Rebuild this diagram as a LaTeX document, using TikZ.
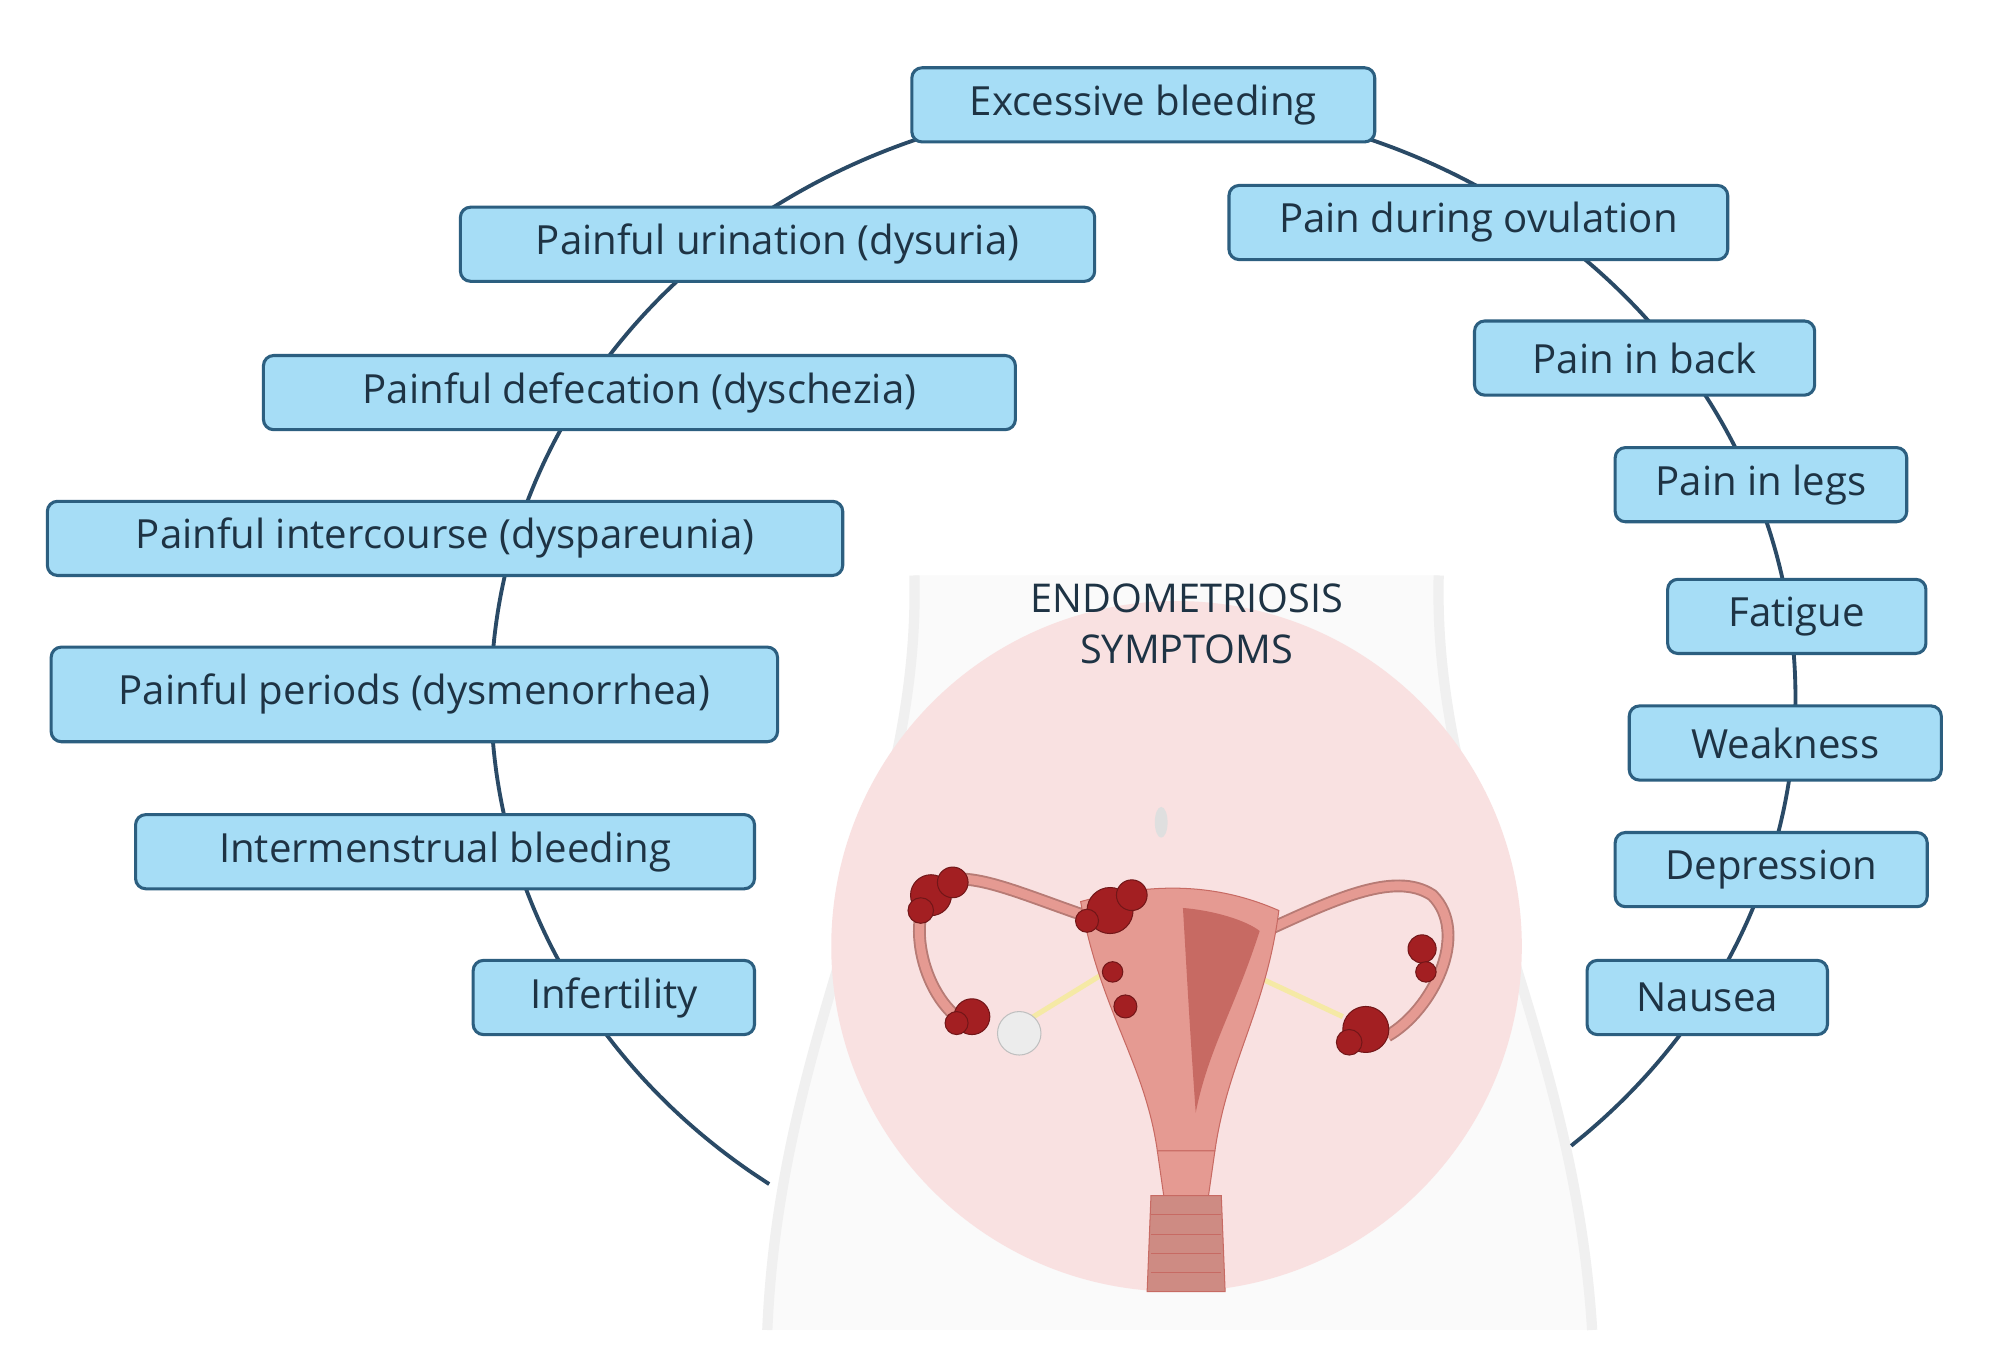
\documentclass[tikz,border=0pt]{standalone}
\usepackage{fontspec}
\setmainfont{Open Sans}
\usetikzlibrary{shapes.geometric}
\definecolor{boxfill}{HTML}{A6DDF6}
\definecolor{boxline}{HTML}{2C5F80}
\definecolor{txt}{HTML}{1E3344}
\definecolor{arc}{HTML}{2A4A66}
\definecolor{pinkbg}{HTML}{F9E1E1}
\definecolor{uter}{HTML}{E59A92}
\definecolor{uterd}{HTML}{C76A63}
\definecolor{lesion}{HTML}{A31F22}
\tikzset{
  sym/.style={draw=boxline,line width=1.2pt,fill=boxfill,rounded corners=4pt,
    minimum height=29pt,inner xsep=6pt,text=txt,font=\fontsize{15.7}{18}\selectfont,anchor=center},
  les/.style={fill=lesion,draw=lesion!70!black,line width=0.4pt}
}
\begin{document}
\begin{tikzpicture}[x=0.5pt,y=-0.5pt]
\useasboundingbox (0,0) rectangle (1560,1068);
\fill[white] (0,0) rectangle (1560,1068);
% body silhouette
\fill[gray!4] (600,1040) .. controls (610,800) and (720,650) .. (715,450) -- (1125,450) .. controls (1120,650) and (1230,800) .. (1245,1040) -- cycle;
\draw[gray!12,line width=4pt] (715,450) .. controls (720,650) and (610,800) .. (600,1040);
\draw[gray!12,line width=4pt] (1125,450) .. controls (1120,650) and (1230,800) .. (1245,1040);
\fill[pinkbg] (920,740) circle (270);
\fill[gray!25] (908,643) ellipse (5 and 12);
% arc
\draw[arc,line width=1.5pt] plot[domain=-49:235,samples=150,smooth] ({894+510*cos(\x)},{545-465*sin(\x)});
% uterus
\draw[uter!80!black,line width=5pt,fill=none] (860,720) .. controls (800,700) and (760,680) .. (735,690) .. controls (705,710) and (720,780) .. (755,800);
\draw[uter,line width=3.5pt] (860,720) .. controls (800,700) and (760,680) .. (735,690) .. controls (705,710) and (720,780) .. (755,800);
\draw[uter!80!black,line width=5pt] (985,730) .. controls (1040,705) and (1090,680) .. (1120,700) .. controls (1150,730) and (1120,790) .. (1085,810);
\draw[uter,line width=3.5pt] (985,730) .. controls (1040,705) and (1090,680) .. (1120,700) .. controls (1150,730) and (1120,790) .. (1085,810);
\draw[yellow!60!brown!40,line width=2pt] (865,760) -- (800,800);
\draw[yellow!60!brown!40,line width=2pt] (975,760) -- (1050,795);
\fill[gray!15,draw=gray!50] (797,808) circle (17);
\fill[uter,draw=uterd] (845,705) .. controls (900,690) and (950,690) .. (1000,712) .. controls (990,790) and (960,830) .. (950,900) -- (905,900) .. controls (895,830) and (860,790) .. (845,705) -- cycle;
\fill[uterd] (925,710) .. controls (950,712) and (975,720) .. (985,728) .. controls (965,790) and (945,820) .. (935,870) .. controls (930,800) and (928,760) .. (925,710) -- cycle;
\fill[uter,draw=uterd] (905,900) -- (950,900) -- (945,935) -- (910,935) -- cycle;
\fill[uter!90!black,draw=uterd] (900,935) -- (955,935) -- (958,1010) -- (897,1010) -- cycle;
\foreach \yy in {950,965,980,995} \draw[uterd] (900,\yy) -- (955,\yy);
% lesions
\foreach \p/\r in {{(728,700)}/16,{(745,690)}/12,{(720,712)}/10,{(760,795)}/14,{(748,800)}/9,
  {(868,712)}/18,{(885,700)}/12,{(850,720)}/9,{(870,760)}/8,{(880,787)}/9,
  {(1112,742)}/11,{(1115,760)}/8,{(1068,805)}/18,{(1055,815)}/10}
  \fill[les] \p circle (\r);
% title
\node[text=txt,font=\fontsize{15.5}{18}\selectfont,align=center] (title) at (928,488) {ENDOMETRIOSIS\\[2pt]SYMPTOMS};
% boxes
\node[sym,minimum width=181pt] (n1) at (894,82) {Excessive bleeding};
\node[sym,minimum width=248pt] (n2) at (608,191) {Painful urination (dysuria)};
\node[sym,minimum width=195pt] (n3) at (1156,174) {Pain during ovulation};
\node[sym,minimum width=294pt] (n4) at (500,307) {Painful defecation (dyschezia)};
\node[sym,minimum width=133pt] (n5) at (1286,280) {Pain in back};
\node[sym,minimum width=311pt] (n6) at (348,421) {Painful intercourse (dyspareunia)};
\node[sym,minimum width=114pt] (n7) at (1377,379) {Pain in legs};
\node[sym,minimum width=284pt,minimum height=37pt] (n8) at (324,543) {Painful periods (dysmenorrhea)};
\node[sym,minimum width=101pt] (n9) at (1405,482) {Fatigue};
\node[sym,minimum width=242pt] (n10) at (348,666) {Intermenstrual bleeding};
\node[sym,minimum width=122pt] (n11) at (1396,581) {Weakness};
\node[sym,minimum width=122pt] (n12) at (1385,680) {Depression};
\node[sym,minimum width=110pt] (n13) at (480,780) {Infertility};
\node[sym,minimum width=94pt] (n14) at (1335,780) {Nausea};
\end{tikzpicture}
\end{document}
